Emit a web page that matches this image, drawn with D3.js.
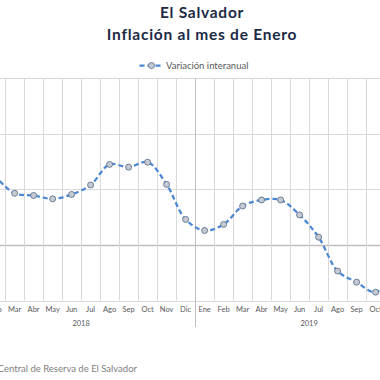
<!DOCTYPE html>
<html>
<head>
<meta charset="utf-8">
<script src="https://cdn.jsdelivr.net/npm/d3@7"></script>
<style>
  html, body { margin: 0; padding: 0; background: #ffffff; }
  svg { display: block; }
</style>
</head>
<body>
<svg id="chart" width="380" height="380"></svg>
<script>
// ---- data ----
const months = ["Ene","Feb","Mar","Abr","May","Jun","Jul","Ago","Sep","Oct","Nov","Dic"];
const years = ["2018", "2019"];
const values2018 = [1.55, 1.22, 0.93, 0.89, 0.83, 0.91, 1.08, 1.45, 1.40, 1.49, 1.09, 0.46];
const values2019 = [0.26, 0.37, 0.70, 0.81, 0.81, 0.54, 0.14, -0.47, -0.67, -0.85, -0.50, 0.0];
const yTicks = [-1, 0, 1, 2, 3];
const seriesName = "Variación interanual";
const titleLines = ["El Salvador", "Inflación al mes de Enero"];
const sourceText = "Fuente: Banco Central de Reserva de El Salvador";

// ---- build rows ----
const rows = [];
years.forEach((yr, yi) => {
  const vals = yi === 0 ? values2018 : values2019;
  months.forEach((m, mi) => rows.push({ key: yr + "-" + m, month: m, year: yr, value: vals[mi] }));
});

const svg = d3.select("#chart");

// plot geometry (the original chart is cropped on both sides)
const step = 19;
const x0 = -32.9;
const x = d3.scaleBand().domain(rows.map(d => d.key)).range([x0, x0 + step * rows.length]).padding(0);
const y = d3.scaleLinear().domain([-1, 3]).range([300.5, 78.3]);
const cx = k => x(k) + x.bandwidth() / 2;

// horizontal gridlines
svg.append("g").selectAll("line").data(yTicks).join("line")
  .attr("x1", x0).attr("x2", x0 + step * rows.length)
  .attr("y1", d => Math.round(y(d)) + 0.5).attr("y2", d => Math.round(y(d)) + 0.5)
  .attr("stroke", d => d === 0 ? "#bfbfbf" : "#d9d9d9")
  .attr("stroke-width", d => d === 0 ? 1.6 : 1);

// vertical gridlines at category boundaries
const bounds = d3.range(rows.length + 1);
svg.append("g").selectAll("line").data(bounds).join("line")
  .attr("x1", k => Math.round(x0 + step * k) + 0.5).attr("x2", k => Math.round(x0 + step * k) + 0.5)
  .attr("y1", y(3)).attr("y2", k => (k % 12 === 0) ? 327 : y(-1))
  .attr("stroke", k => (k % 12 === 0) ? "#bfbfbf" : "#d9d9d9")
  .attr("stroke-width", 1);

// month labels
svg.append("g").selectAll("text").data(rows).join("text")
  .attr("x", d => cx(d.key)).attr("y", 312)
  .attr("text-anchor", "middle")
  .attr("font-family", "Lato, 'Open Sans', sans-serif")
  .attr("font-size", 7.5)
  .attr("fill", "#595959")
  .text(d => d.month);

// year labels
svg.append("g").selectAll("text").data(years).join("text")
  .attr("x", yr => {
    const ks = rows.filter(r => r.year === yr).map(r => cx(r.key));
    return (d3.min(ks) + d3.max(ks)) / 2;
  })
  .attr("y", 326)
  .attr("text-anchor", "middle")
  .attr("font-family", "Lato, 'Open Sans', sans-serif")
  .attr("font-size", 7.5)
  .attr("fill", "#595959")
  .text(d => d);

// line
const lineColor = "#4a86d4";
const line = d3.line().x(d => cx(d.key)).y(d => y(d.value)).curve(d3.curveCatmullRom.alpha(0.5));
svg.append("path").datum(rows)
  .attr("d", line)
  .attr("fill", "none")
  .attr("stroke", lineColor)
  .attr("stroke-width", 2.25)
  .attr("stroke-dasharray", "5,3");

// markers
svg.append("g").selectAll("circle").data(rows).join("circle")
  .attr("cx", d => cx(d.key)).attr("cy", d => y(d.value))
  .attr("r", 3)
  .attr("fill", "#c5cad3")
  .attr("stroke", "#5f7391")
  .attr("stroke-width", 0.9);

// titles
svg.append("g").selectAll("text").data(titleLines).join("text")
  .attr("x", 202).attr("y", (d, i) => 18 + i * 22)
  .attr("text-anchor", "middle")
  .attr("font-family", "Lato, 'Open Sans', sans-serif")
  .attr("font-weight", "bold")
  .attr("font-size", 15.5)
  .attr("letter-spacing", 0.75)
  .attr("fill", "#1c2a45")
  .text(d => d);

// legend
const lg = svg.append("g");
lg.append("line").attr("x1", 139.5).attr("x2", 163.5).attr("y1", 65.5).attr("y2", 65.5)
  .attr("stroke", lineColor).attr("stroke-width", 2.25).attr("stroke-dasharray", "5,3");
lg.append("circle").attr("cx", 151.5).attr("cy", 65.5).attr("r", 3)
  .attr("fill", "#c5cad3").attr("stroke", "#5f7391").attr("stroke-width", 0.9);
lg.append("text").attr("x", 166).attr("y", 68.5)
  .attr("font-family", "Lato, 'Open Sans', sans-serif")
  .attr("font-size", 9.5)
  .attr("fill", "#595959")
  .text(seriesName);

// source
svg.append("text").attr("x", 137).attr("y", 372)
  .attr("text-anchor", "end")
  .attr("font-family", "Lato, 'Open Sans', sans-serif")
  .attr("font-size", 9.5)
  .attr("fill", "#808080")
  .text(sourceText);
</script>
</body>
</html>
